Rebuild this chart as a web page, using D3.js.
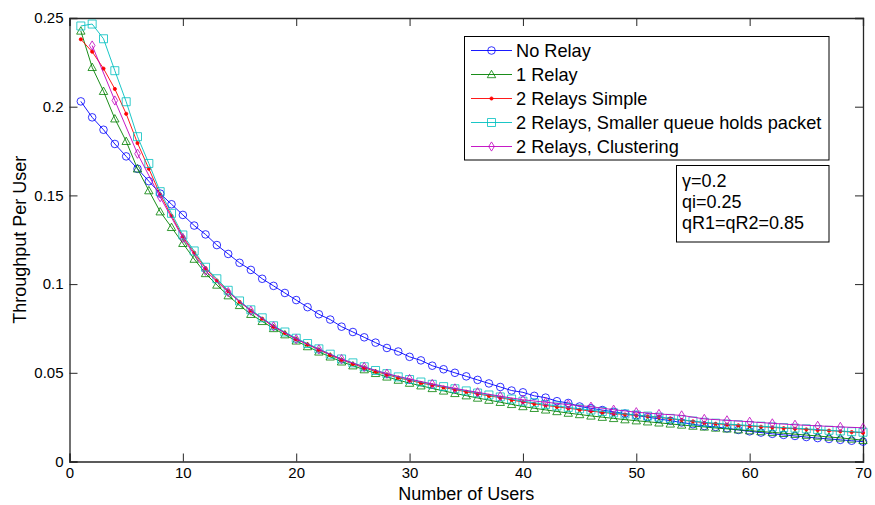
<!DOCTYPE html>
<html>
<head>
<meta charset="utf-8">
<script src="https://cdn.jsdelivr.net/npm/d3@7"></script>
<style>
  body { margin: 0; background: #fff; }
  svg { font-family: "Liberation Sans", Arial, sans-serif; }
</style>
</head>
<body>
<svg id="chart" width="875" height="505"></svg>
<script>
// number of users 1..70
const users = [1,2,3,4,5,6,7,8,9,10,11,12,13,14,15,16,17,18,19,20,21,22,23,24,25,26,27,28,29,30,31,32,33,34,35,
  36,37,38,39,40,41,42,43,44,45,46,47,48,49,50,51,52,53,54,55,56,57,58,59,60,61,62,63,64,65,66,67,68,69,70];
// clustering only at even user counts
const usersEven = [2,4,6,8,10,12,14,16,18,20,22,24,26,28,30,32,34,36,38,40,42,44,46,48,50,52,54,56,58,60,62,64,66,68,70];

const noRelay = [0.203,0.194,0.187,0.179,0.172,0.165,0.158,0.151,0.145,0.139,0.133,0.128,0.122,0.117,0.112,
  0.108,0.103,0.099,0.095,0.091,0.087,0.083,0.080,0.076,0.073,0.070,0.067,0.064,0.062,0.059,0.057,0.054,0.052,
  0.050,0.048,0.046,0.044,0.042,0.040,0.039,0.037,0.036,0.034,0.033,0.031,0.030,0.029,0.028,0.027,0.026,0.025,
  0.024,0.023,0.022,0.021,0.020,0.0195,0.0187,0.0178,0.0170,0.0163,0.0156,0.0150,0.0144,0.0138,0.0132,0.0127,
  0.0122,0.0117,0.0112];

const oneRelay = [0.2427,0.2222,0.2087,0.1932,0.1805,0.1650,0.1527,0.1408,0.1320,0.1230,0.1141,0.1060,0.0995,
  0.0935,0.0880,0.0830,0.0790,0.0750,0.0715,0.0680,0.0648,0.0618,0.0590,0.0562,0.0540,0.0518,0.0497,0.0477,
  0.0459,0.0442,0.0427,0.0412,0.0398,0.0384,0.0371,0.0358,0.0346,0.0334,0.0322,0.0310,0.0300,0.0291,0.0282,
  0.0273,0.0265,0.0257,0.0250,0.0243,0.0236,0.0230,0.0224,0.0218,0.0212,0.0206,0.0200,0.0195,0.0189,0.0184,
  0.0179,0.0174,0.0169,0.0164,0.0159,0.0154,0.0149,0.0144,0.0138,0.0133,0.0127,0.0120];

const twoSimple = [0.238,0.231,0.2215,0.210,0.196,0.1795,0.165,0.1505,0.1385,0.1267,0.1177,0.109,0.102,0.096,
  0.090,0.085,0.0805,0.076,0.0725,0.069,0.066,0.063,0.060,0.0573,0.055,0.0528,0.0507,0.049,0.0472,0.0457,0.0443,
  0.043,0.0417,0.0405,0.0393,0.0381,0.037,0.036,0.0347,0.0335,0.0325,0.0316,0.0308,0.0300,0.0292,0.0284,0.0277,
  0.0270,0.0265,0.0260,0.0255,0.0249,0.0241,0.0234,0.0226,0.0218,0.0213,0.0208,0.0204,0.0200,0.0196,0.0192,
  0.0188,0.0185,0.0181,0.0177,0.0174,0.0170,0.0166,0.0162];

const twoSmaller = [0.2455,0.2466,0.2383,0.2203,0.2028,0.1831,0.1680,0.1521,0.1399,0.1277,0.1187,0.1095,0.1030,
  0.0965,0.0905,0.0855,0.081,0.0765,0.073,0.0695,0.0665,0.0635,0.0605,0.0578,0.0556,0.0534,0.0513,0.0495,0.0477,
  0.0462,0.0448,0.0435,0.0422,0.041,0.0398,0.0386,0.0375,0.0364,0.0352,0.0340,0.0331,0.0322,0.0313,0.0305,0.0297,
  0.029,0.0282,0.0274,0.0268,0.0262,0.0256,0.025,0.0243,0.0235,0.0228,0.0221,0.0216,0.0211,0.0207,0.0203,0.0199,
  0.0195,0.0191,0.0188,0.0184,0.0180,0.0176,0.0172,0.0168,0.0165];

const twoCluster = [0.2345,0.2035,0.1735,0.1490,0.1260,0.1075,0.0955,0.0850,0.0762,0.0690,0.0632,0.0577,0.0533,
  0.0495,0.0465,0.0437,0.0412,0.0390,0.0368,0.0348,0.0334,0.0321,0.0309,0.0292,0.0278,0.0268,0.0260,0.0240,
  0.0232,0.0224,0.0215,0.0207,0.0201,0.0195,0.0190];

const seriesNames = ["No Relay", "1 Relay", "2 Relays Simple", "2 Relays, Smaller queue holds packet", "2 Relays, Clustering"];
const xTicks = [0, 10, 20, 30, 40, 50, 60, 70];
const yTicks = [0, 0.05, 0.1, 0.15, 0.2, 0.25];
const note = ["\u03b3=0.2", "qi=0.25", "qR1=qR2=0.85"];

const series = [
  { name: seriesNames[0], xs: users, ys: noRelay, color: "#0000ff", marker: "circle" },
  { name: seriesNames[1], xs: users, ys: oneRelay, color: "#008000", marker: "triangle" },
  { name: seriesNames[2], xs: users, ys: twoSimple, color: "#ff0000", marker: "dot" },
  { name: seriesNames[3], xs: users, ys: twoSmaller, color: "#00bfbf", marker: "square" },
  { name: seriesNames[4], xs: usersEven, ys: twoCluster, color: "#bf00bf", marker: "diamond" },
];

const box = { left: 69.5, right: 863, top: 18, bottom: 461.5 };

const svg = d3.select("#chart");

const x = d3.scaleLinear().domain([0, 70]).range([box.left, box.right]);
const y = d3.scaleLinear().domain([0, 0.25]).range([box.bottom, box.top]);

// marker path generators (MATLAB-like)
const markerPath = {
  circle: "M3.8,0A3.8,3.8 0 1,1 -3.8,0A3.8,3.8 0 1,1 3.8,0Z",
  triangle: "M0,-4.2L4.2,3.2L-4.2,3.2Z",
  square: "M-4,-4H4V4H-4Z",
  diamond: "M0,-4.6L2.8,0L0,4.6L-2.8,0Z",
  dot: "M1.6,0A1.6,1.6 0 1,1 -1.6,0A1.6,1.6 0 1,1 1.6,0Z",
};

// axes frame and ticks
const axisColor = "#262626";

const gx = svg.append("g").attr("transform", `translate(0,${box.bottom})`)
  .call(d3.axisBottom(x).tickValues(xTicks).tickSize(-8).tickPadding(6).tickFormat(d3.format("d")));
const gxTop = svg.append("g").attr("transform", `translate(0,${box.top})`)
  .call(d3.axisTop(x).tickValues(xTicks).tickSize(-8).tickFormat(""));
const gy = svg.append("g").attr("transform", `translate(${box.left},0)`)
  .call(d3.axisLeft(y).tickValues(yTicks).tickSize(-8).tickPadding(6).tickFormat(d => d === 0 ? "0" : String(+d.toFixed(2))));
const gyRight = svg.append("g").attr("transform", `translate(${box.right},0)`)
  .call(d3.axisRight(y).tickValues(yTicks).tickSize(-8).tickFormat(""));

[gx, gxTop, gy, gyRight].forEach(g => {
  g.select(".domain").attr("stroke", axisColor).attr("stroke-width", 1.3);
  g.selectAll(".tick line").attr("stroke", axisColor).attr("stroke-width", 1);
  g.selectAll(".tick text").attr("fill", "#000").style("font-size", "15px")
    .style("font-family", "'Liberation Sans', Arial, sans-serif");
});
gx.selectAll(".tick text").attr("dy", "0.71em");

// data lines + markers
const line = d3.line().x(d => x(d[0])).y(d => y(d[1]));

series.forEach(s => {
  const pts = s.xs.map((v, i) => [v, s.ys[i]]);
  const g = svg.append("g");
  g.append("path")
    .attr("d", line(pts))
    .attr("fill", "none")
    .attr("stroke", s.color)
    .attr("stroke-width", 0.9);
  g.selectAll("path.m")
    .data(pts)
    .enter()
    .append("path")
    .attr("class", "m")
    .attr("d", markerPath[s.marker])
    .attr("transform", d => `translate(${x(d[0])},${y(d[1])})`)
    .attr("fill", s.marker === "dot" ? s.color : "none")
    .attr("stroke", s.color)
    .attr("stroke-width", 0.8);
});

// axis labels
svg.append("text")
  .attr("x", (box.left + box.right) / 2)
  .attr("y", 500)
  .attr("text-anchor", "middle")
  .style("font-size", "18px")
  .text("Number of Users");

svg.append("text")
  .attr("transform", `translate(26,${(box.top + box.bottom) / 2}) rotate(-90)`)
  .attr("text-anchor", "middle")
  .style("font-size", "18px")
  .text("Throughput Per User");

// legend
const legend = svg.append("g");
legend.append("rect")
  .attr("x", 464.5).attr("y", 36.5).attr("width", 364.5).attr("height", 123.5)
  .attr("fill", "#fff").attr("stroke", "#000").attr("stroke-width", 1);

series.forEach((s, i) => {
  const cy = 50.5 + i * 24;
  legend.append("line")
    .attr("x1", 471).attr("x2", 512).attr("y1", cy).attr("y2", cy)
    .attr("stroke", s.color).attr("stroke-width", 0.9);
  legend.append("path")
    .attr("d", markerPath[s.marker])
    .attr("transform", `translate(491.5,${cy})`)
    .attr("fill", s.marker === "dot" ? s.color : "none")
    .attr("stroke", s.color).attr("stroke-width", 0.8);
  legend.append("text")
    .attr("x", 516).attr("y", cy).attr("dy", "0.35em")
    .style("font-size", "18.2px")
    .text(s.name);
});

// parameter box
const notes = svg.append("g");
notes.append("rect")
  .attr("x", 676.5).attr("y", 165.5).attr("width", 152.5).attr("height", 76.5)
  .attr("fill", "#fff").attr("stroke", "#000").attr("stroke-width", 1);
notes.selectAll("text")
  .data(note)
  .enter()
  .append("text")
  .attr("x", 682)
  .attr("y", (d, i) => 187 + i * 21)
  .style("font-size", "18px")
  .text(d => d);
</script>
</body>
</html>
